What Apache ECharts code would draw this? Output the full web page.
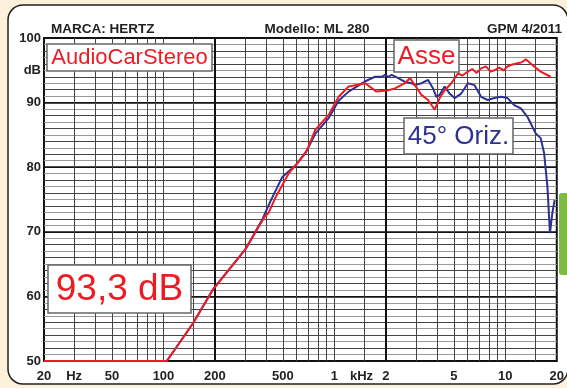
<!DOCTYPE html>
<html>
<head>
<meta charset="utf-8">
<script src="https://cdn.jsdelivr.net/npm/echarts@6/dist/echarts.min.js"></script>
<style>
html,body{margin:0;padding:0;background:#fcf2dc}
#main{width:567px;height:388px}
</style>
</head>
<body>
<div id="main"></div>
<script>
// Asse (on-axis) response, Hz / dB
var freqAsse = [20, 104.5, 116, 148.6, 194, 303.6, 380, 397, 410, 454, 542, 620, 693, 774, 926, 1059, 1211, 1325, 1514, 1762, 2070, 2261, 2588, 2767, 2958, 3231, 3533, 3864, 4131, 4416, 4830, 5283, 5600, 6040, 6400, 6800, 7216, 7700, 8200, 8630, 9200, 9800, 10310, 11000, 11780, 12400, 13180, 14730, 16100, 18410];
var dbAsse   = [50, 50, 51.7, 55.8, 61.0, 67.4, 71.8, 72.6, 72.8, 75.4, 79.1, 80.9, 82.7, 85.8, 88.1, 90.9, 92.5, 92.7, 93.0, 91.7, 91.9, 92.2, 93.0, 93.8, 92.7, 91.2, 90.4, 88.9, 90.7, 91.9, 93.0, 94.5, 94.2, 94.8, 95.2, 94.6, 95.3, 95.6, 94.8, 95.0, 95.4, 95.0, 95.6, 95.9, 96.1, 96.2, 96.7, 95.6, 94.8, 94.0];

// 45° Oriz. response
var freqOriz = [20, 104.5, 116, 148.6, 194, 303.6, 380, 420, 496, 593, 678, 774, 926, 1059, 1211, 1514, 1731, 1891, 1979, 2070, 2163, 2366, 2588, 2826, 2958, 3231, 3533, 3778, 3948, 4131, 4416, 4723, 5049, 5520, 6040, 6608, 7216, 7890, 8630, 9424, 10310, 11270, 12330, 13470, 15070, 16100, 16860, 17630, 18250, 18840, 19420];
var dbOriz   = [50, 50, 51.7, 55.8, 61.0, 67.4, 72.0, 74.6, 78.5, 80.3, 82.2, 85.2, 87.6, 90.3, 91.7, 93.3, 94.0, 94.0, 94.3, 94.0, 94.3, 93.8, 93.2, 93.0, 92.7, 93.0, 93.5, 92.2, 90.9, 91.2, 92.5, 91.4, 90.7, 91.4, 93.0, 92.7, 90.9, 90.4, 90.7, 90.9, 90.7, 89.6, 89.1, 87.8, 85.2, 84.5, 82.2, 77.0, 69.8, 72.9, 74.9];

// grid and tick labels
var gridFreqs = [30, 40, 50, 60, 70, 80, 90, 100, 150, 200, 300, 400, 500, 600, 700, 800, 900, 1000, 1500, 2000, 3000, 4000, 5000, 6000, 7000, 8000, 9000, 10000, 15000];
var majorFreqs = [200, 2000];
var labelFreqs = [20, 30, 50, 100, 200, 500, 1000, 1440, 2000, 5000, 10000, 20000];
var labelTexts = ['20', 'Hz', '50', '100', '200', '500', '1', 'kHz', '2', '5', '10', '20'];
var dbTicks = [50, 60, 70, 80, 90, 95, 100];
var dbTexts = ['50', '60', '70', '80', '90', 'dB', '100'];

var FONT = 'Liberation Sans, Arial, sans-serif';
var lg = function (f) { return Math.log10(f); };
function nearest(arr, v) {
    var best = 0;
    for (var i = 1; i < arr.length; i++) {
        if (Math.abs(arr[i] - v) < Math.abs(arr[best] - v)) best = i;
    }
    return best;
}
function pairs(fs, ds) {
    return fs.map(function (f, i) { return [lg(f), ds[i]]; });
}

var chart = echarts.init(document.getElementById('main'));
var option = {
    backgroundColor: '#fcf2dc',
    animation: false,
    grid: {
        left: 44, right: 8, top: 38, bottom: 27,
        show: true, borderColor: '#111', borderWidth: 2, backgroundColor: 'transparent'
    },
    xAxis: [{
        type: 'value', min: lg(20), max: lg(20000),
        axisLine: {show: false},
        axisTick: {show: false, customValues: gridFreqs.map(lg)},
        splitLine: {show: true, lineStyle: {color: '#444', width: 1}},
        axisLabel: {
            customValues: labelFreqs.map(lg),
            formatter: function (v) { return labelTexts[nearest(labelFreqs.map(lg), v)]; },
            fontWeight: 'bold', fontSize: 13, color: '#222', fontFamily: FONT, margin: 9
        }
    }, {
        type: 'value', min: lg(20), max: lg(20000), position: 'bottom',
        axisLine: {show: false},
        axisTick: {show: false, customValues: majorFreqs.map(lg)},
        splitLine: {show: true, lineStyle: {color: '#111', width: 2}},
        axisLabel: {show: false}
    }],
    yAxis: [{
        type: 'value', min: 50, max: 100, interval: 1,
        axisLine: {show: false}, axisTick: {show: false},
        splitLine: {show: true, lineStyle: {color: ['#222', '#999', '#444', '#999', '#444', '#999', '#444', '#999', '#444', '#999'], width: 1}},
        axisLabel: {
            customValues: dbTicks,
            formatter: function (v) { return dbTexts[nearest(dbTicks, v)]; },
            fontWeight: 'bold', fontSize: 13, color: '#222', fontFamily: FONT, margin: 3
        }
    }, {
        type: 'value', min: 50, max: 100, interval: 10, position: 'left',
        axisLine: {show: false}, axisTick: {show: false}, axisLabel: {show: false},
        splitLine: {show: true, lineStyle: {color: '#111', width: 1.5}}
    }],
    series: [{
        name: '45° Oriz.', type: 'line', showSymbol: false, clip: false,
        data: pairs(freqOriz, dbOriz),
        lineStyle: {color: '#2e3192', width: 2}, z: 3
    }, {
        name: 'Asse', type: 'line', showSymbol: false, clip: false,
        data: pairs(freqAsse, dbAsse),
        lineStyle: {color: '#ed1c24', width: 2}, z: 4
    }],
    graphic: [
        {type: 'rect', z: -10, shape: {x: 8, y: 5, width: 560, height: 379, r: 15}, style: {fill: '#fff', stroke: '#222', lineWidth: 1.5}},
        {type: 'rect', z: -9, shape: {x: 559, y: 193, width: 12, height: 82, r: 3}, style: {fill: '#7dbb42'}},
        {type: 'text', z: 50, style: {text: 'MARCA: HERTZ', x: 51, y: 29, font: 'bold 13.5px ' + FONT, fill: '#222', align: 'left', verticalAlign: 'middle'}},
        {type: 'text', z: 50, style: {text: 'Modello: ML 280', x: 317, y: 29, font: 'bold 13.5px ' + FONT, fill: '#222', align: 'center', verticalAlign: 'middle'}},
        {type: 'text', z: 50, style: {text: 'GPM 4/2011', x: 562, y: 29, font: 'bold 13.5px ' + FONT, fill: '#222', align: 'right', verticalAlign: 'middle'}},

        {type: 'rect', z: 50, shape: {x: 47, y: 44, width: 165, height: 27}, style: {fill: '#fff', stroke: '#666', lineWidth: 1.5}},
        {type: 'text', z: 51, style: {text: 'AudioCarStereo', x: 129.5, y: 58, font: '22px ' + FONT, fill: '#ed1c24', align: 'center', verticalAlign: 'middle'}},

        {type: 'rect', z: 50, shape: {x: 394, y: 40, width: 65, height: 32}, style: {fill: '#fff', stroke: '#666', lineWidth: 1.5}},
        {type: 'text', z: 51, style: {text: 'Asse', x: 426.5, y: 57, font: '26px ' + FONT, fill: '#ed1c24', align: 'center', verticalAlign: 'middle'}},

        {type: 'rect', z: 50, shape: {x: 404, y: 118, width: 109, height: 36}, style: {fill: '#fff', stroke: '#666', lineWidth: 1.5}},
        {type: 'text', z: 51, style: {text: '45° Oriz.', x: 458.5, y: 137, font: '26px ' + FONT, fill: '#2e3192', align: 'center', verticalAlign: 'middle'}},

        {type: 'rect', z: 50, shape: {x: 48, y: 265, width: 143, height: 48}, style: {fill: '#fff', stroke: '#666', lineWidth: 1.5}},
        {type: 'text', z: 51, style: {text: '93,3 dB', x: 119.5, y: 290, font: '37px ' + FONT, fill: '#ed1c24', align: 'center', verticalAlign: 'middle'}}
    ]
};
chart.setOption(option);
</script>
</body>
</html>
